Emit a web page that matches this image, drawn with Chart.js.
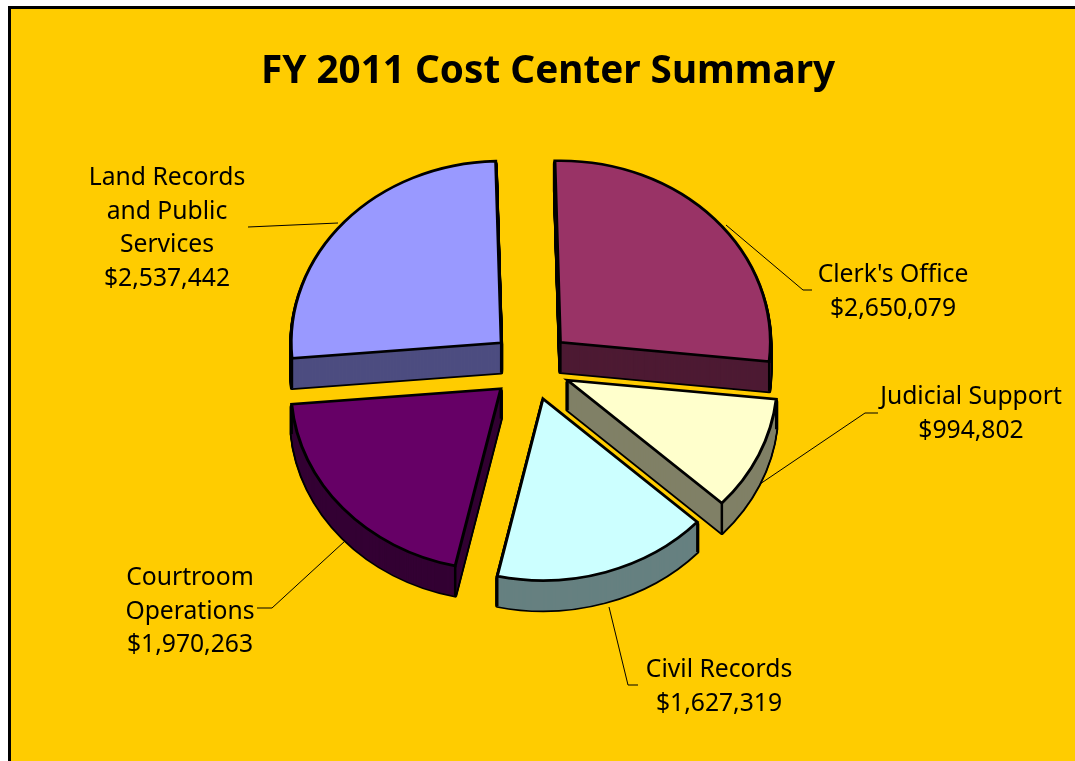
<!DOCTYPE html>
<html>
<head>
<meta charset="utf-8">
<title>FY 2011 Cost Center Summary</title>
<script src="https://cdn.jsdelivr.net/npm/chart.js@4"></script>
<style>
    html, body { margin: 0; height: 100%; background: #fff; overflow: hidden; }
    #frame { position: absolute; left: 8px; top: 6px; width: 1200px; height: 900px; background: #FFCC00; border: 3px solid #000; }
    #costChart { position: absolute; left: 0; top: 0; }
</style>
</head>
<body>
<div id="frame"></div>
<canvas id="costChart" width="1075" height="761"></canvas>
<script>
// Chart data
const categories = ["Clerk's Office", 'Judicial Support', 'Civil Records', 'Courtroom Operations', 'Land Records and Public Services'];
const costs = [2650079, 994802, 1627319, 1970263, 2537442];
const topColors = ['#993366', '#FFFFCC', '#CCFFFF', '#660066', '#9999FF'];
const sideColors = ['#4D1A33', '#808066', '#668080', '#330033', '#4D4D80'];

// How each label wraps, and where label and leader line sit
const labelLines = [["Clerk's Office"], ['Judicial Support'], ['Civil Records'], ['Courtroom', 'Operations'], ['Land Records', 'and Public', 'Services']];
const labelPlaces = [[893, 273], [971, 395], [719, 668], [190, 576], [167, 176]];
const leaders = [
    [[726, 225], [803, 290], [812, 290]],
    [[760, 484], [865, 413], [878, 413]],
    [[609, 607], [628, 685], [638, 685]],
    [[345, 541], [272, 608], [257, 608]],
    [[338, 223], [248, 227]]
];

// 3D look
const squash = 0.865;
const depth = 30;
const explode = 40;
const lineHeight = 33.5;
const labelFont = "24.7px 'Noto Sans', sans-serif";

// Draw one slice moved out from the centre, tilted and pushed down by dy
function drawSlice(ctx, arc, dy, style) {
    const mid = (arc.startAngle + arc.endAngle) / 2;
    const saved = arc.options;
    ctx.save();
    ctx.translate(0, arc.y + dy);
    ctx.scale(1, squash);
    ctx.translate(0, -arc.y);
    ctx.translate(Math.cos(mid) * explode, Math.sin(mid) * explode);
    arc.options = Object.assign({}, saved, style);
    arc.draw(ctx);
    arc.options = saved;
    ctx.restore();
}

// Vertical edges at the apex and at both rim corners of a slice
function drawEdges(ctx, arc) {
    const mid = (arc.startAngle + arc.endAngle) / 2;
    const ox = arc.x + Math.cos(mid) * explode;
    const oy = arc.y + Math.sin(mid) * explode * squash;
    const points = [[ox, oy]];
    [arc.startAngle, arc.endAngle].forEach(a => {
        points.push([ox + Math.cos(a) * arc.outerRadius, oy + Math.sin(a) * arc.outerRadius * squash]);
    });
    ctx.save();
    ctx.strokeStyle = '#000';
    ctx.lineWidth = 2.5;
    points.forEach(p => {
        ctx.beginPath();
        ctx.moveTo(p[0], p[1]);
        ctx.lineTo(p[0], p[1] + depth);
        ctx.stroke();
    });
    ctx.restore();
}

const slices3d = {
    id: 'slices3d',
    afterLayout(chart) {
        // title sits right of the pie centre
        chart.titleBlock.left += 17;
        chart.titleBlock.right += 17;
    },
    beforeDatasetsDraw(chart) {
        const ctx = chart.ctx;
        const arcs = chart.getDatasetMeta(0).data;
        arcs.forEach((arc, i) => {
            for (let d = depth; d >= 2; d--) {
                drawSlice(ctx, arc, d, { backgroundColor: '#000', borderColor: '#000', borderWidth: 4, borderJoinStyle: 'round' });
            }
            for (let d = depth; d >= 1; d--) {
                drawSlice(ctx, arc, d, { backgroundColor: sideColors[i], borderWidth: 0 });
            }
            drawEdges(ctx, arc);
        });
        arcs.forEach(arc => drawSlice(ctx, arc, 0, {}));
        return false;
    },
    afterDraw(chart) {
        const ctx = chart.ctx;
        ctx.save();
        ctx.strokeStyle = '#000';
        ctx.lineWidth = 1;
        leaders.forEach(line => {
            ctx.beginPath();
            line.forEach((p, j) => j ? ctx.lineTo(p[0], p[1]) : ctx.moveTo(p[0], p[1]));
            ctx.stroke();
        });
        ctx.fillStyle = '#000';
        ctx.font = labelFont;
        ctx.textAlign = 'center';
        ctx.textBaseline = 'alphabetic';
        costs.forEach((cost, i) => {
            const lines = labelLines[i].concat('$' + cost.toLocaleString('en-US'));
            lines.forEach((text, j) => {
                ctx.fillText(text, labelPlaces[i][0], labelPlaces[i][1] + 9 + j * lineHeight);
            });
        });
        ctx.restore();
    }
};

const costChart = new Chart(document.getElementById('costChart').getContext('2d'), {
    type: 'pie',
    data: {
        labels: categories,
        datasets: [{
            data: costs,
            backgroundColor: topColors,
            borderColor: '#000',
            borderWidth: 3,
            borderJoinStyle: 'miter'
        }]
    },
    options: {
        responsive: false,
        animation: false,
        rotation: -1.5,
        radius: 210,
        layout: { padding: { right: 13, bottom: 124.8 } },
        plugins: {
            legend: { display: false },
            tooltip: { enabled: false },
            title: {
                display: true,
                text: 'FY 2011 Cost Center Summary',
                color: '#000',
                font: { family: "'Noto Sans', sans-serif", size: 38.7, weight: 'bold', lineHeight: 1.2 },
                padding: { top: 49, bottom: 0 }
            }
        }
    },
    plugins: [slices3d]
});
</script>
</body>
</html>
